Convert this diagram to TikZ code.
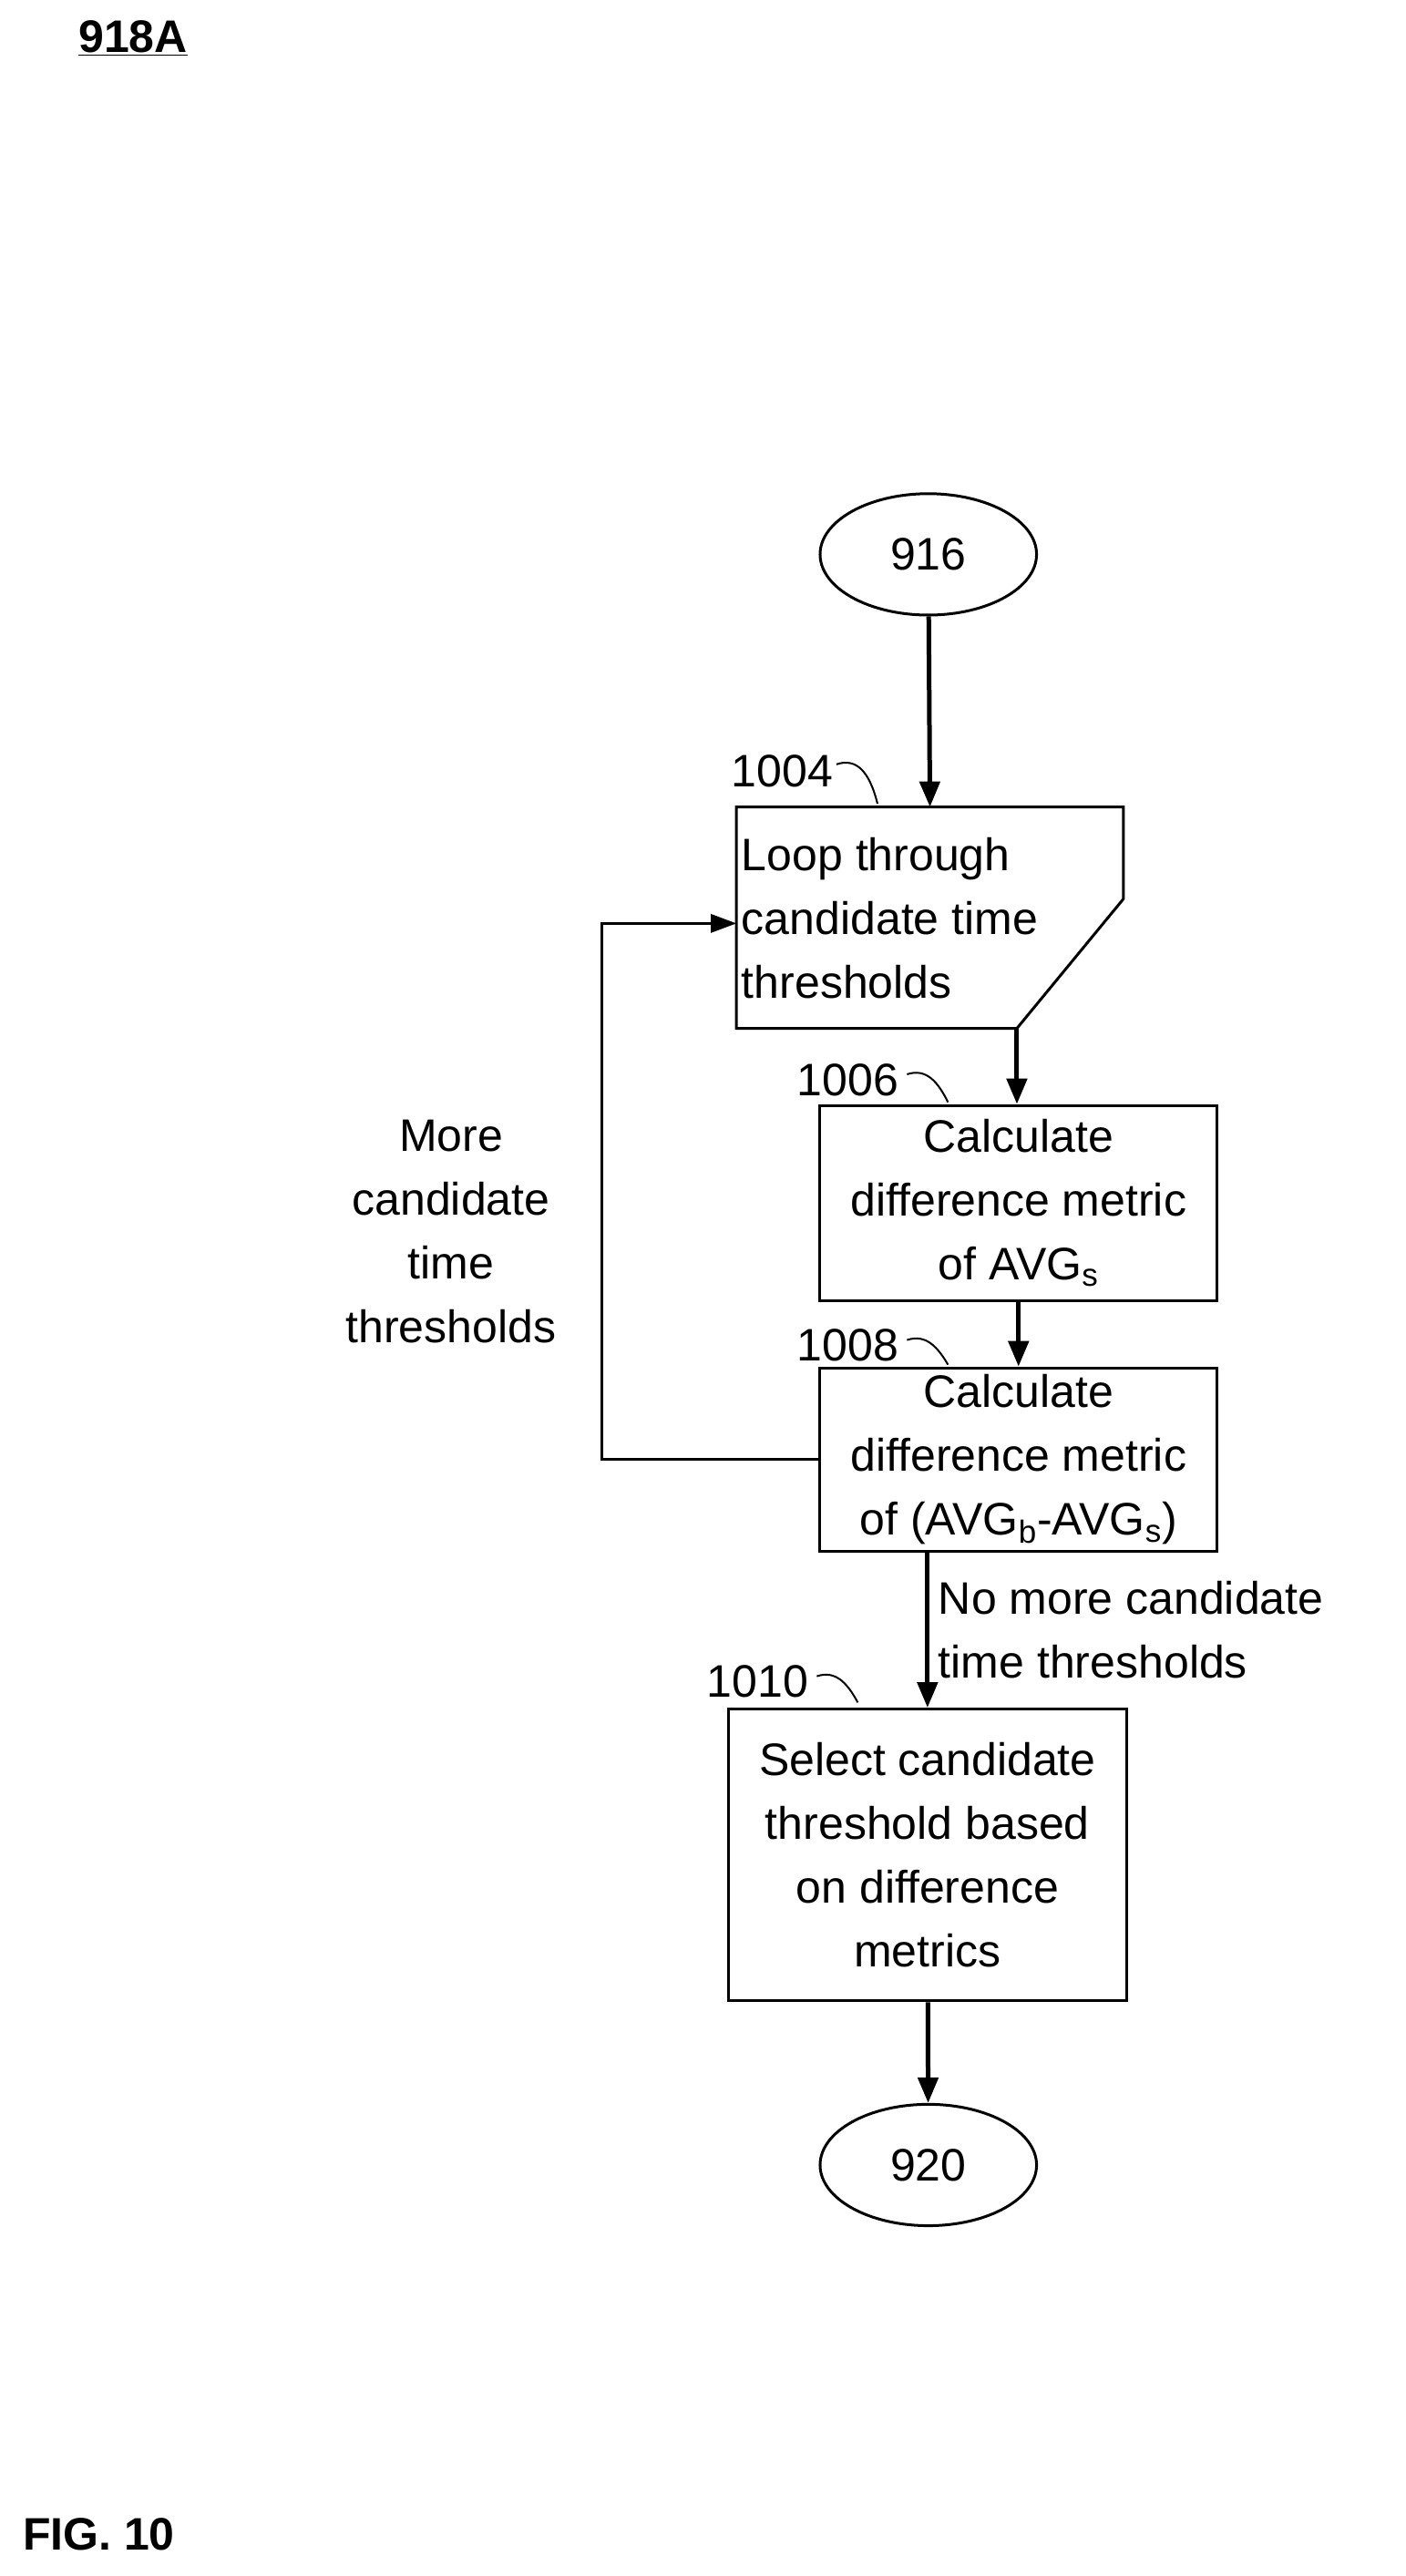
\documentclass[tikz,border=0pt]{standalone}
\usepackage{fontspec}
\setmainfont{Liberation Sans}
\usetikzlibrary{shapes.geometric,arrows.meta}
\begin{document}
\begin{tikzpicture}[x=0.9pt,y=-0.9pt,
  every node/.style={font=\fontsize{25}{35}\selectfont},
  box/.style={draw,line width=1.5pt,minimum width=#1,align=center,inner sep=0pt},
  oval/.style={draw,ellipse,line width=1.5pt,minimum width=132*0.9pt,minimum height=74*0.9pt},
  arr/.style={line width=2.5pt,-{Triangle[length=14pt,width=11pt]}},
  thin/.style={line width=1.5pt},
  curl/.style={line width=1pt}]
\useasboundingbox (0,0) rectangle (856.7,1570.6);
\node[anchor=base west,font=\bfseries\fontsize{25}{30}\selectfont] (title) at (44,32) {\underline{918A}};
\node[oval] (o916) at (566,338) {916};
% loop shape
\draw[thin] (449,492) -- (685,492) -- (685,548) -- (620,627) -- (449,627) -- cycle;
\coordinate (lp) at (567,492);
\coordinate (lpl) at (449,563);
\coordinate (lpb) at (620,627);
\node[anchor=west,align=left,inner sep=0pt] (looptxt) at (452,560) {Loop through\\candidate time\\thresholds};
\draw[box=242*0.9pt,minimum height=119*0.9pt] node (b1006) at (621,733.5) [box=242*0.9pt,minimum height=119*0.9pt] {Calculate\\difference metric\\of AVG\textsubscript{s}};
\node[box=242*0.9pt,minimum height=112*0.9pt] (b1008) at (621,890) {Calculate\\difference metric\\of (AVG\textsubscript{b}-AVG\textsubscript{s})};
\node[box=243*0.9pt,minimum height=178*0.9pt] (b1010) at (565.5,1131) {Select candidate\\threshold based\\on difference\\metrics};
\node[oval] (o920) at (566,1320) {920};
\draw[arr] (o916) -- (lp);
\draw[arr] (lpb) -- (b1006.north -| lpb);
\draw[arr] (b1006) -- (b1008);
\draw[arr] (b1008.south -| b1010.north) -- (b1010);
\draw[arr] (b1010) -- (o920);
\draw[thin,-{Triangle[length=14pt,width=10pt]}] (b1008.west) -- (367,890) -- (367,563) -- (lpl);
\node[align=center,inner sep=0pt] (more) at (275,751) {More\\candidate\\time\\thresholds};
\node[align=left,anchor=north west,inner sep=0pt] (nomore) at (572,964) {No more candidate\\time thresholds};
\node[anchor=base east,inner sep=0pt] (l1004) at (508,480) {1004};
\draw[curl] (510,466) .. controls (522,462) and (530,470) .. (535,490);
\node[anchor=base east,inner sep=0pt] (l1006) at (548,668) {1006};
\draw[curl] (553,655) .. controls (565,651) and (572,660) .. (578,672);
\node[anchor=base east,inner sep=0pt] (l1008) at (548,830) {1008};
\draw[curl] (553,817) .. controls (565,813) and (572,822) .. (578,832);
\node[anchor=base east,inner sep=0pt] (l1010) at (493,1035) {1010};
\draw[curl] (498,1022) .. controls (510,1018) and (517,1027) .. (523,1038);
\node[anchor=base west,font=\bfseries\fontsize{25}{30}\selectfont] (fig) at (10,1555) {FIG. 10};
\end{tikzpicture}
\end{document}
